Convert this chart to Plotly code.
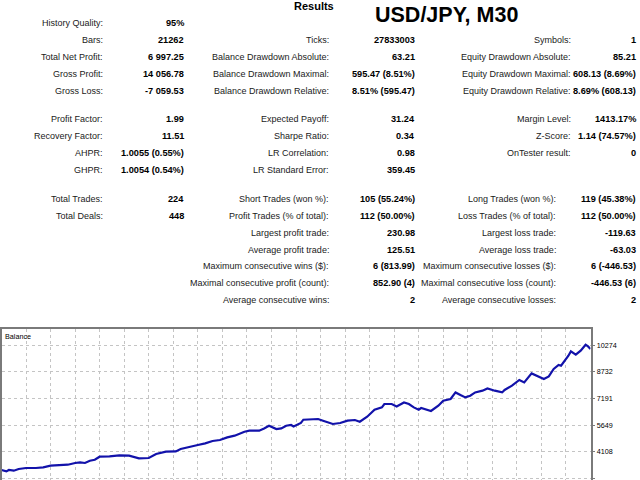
import plotly.graph_objects as go

# balance curve (x = trade position, y = balance)
trade = [0, 2, 3, 5, 7, 10, 14, 17, 20, 24,
         27, 30, 32, 34, 36, 38, 40, 44, 48, 52,
         54, 56, 60, 63, 67, 71, 73, 77, 80, 83,
         86, 89, 92, 95, 97, 99, 101, 105, 107, 109,
         112, 114, 116, 118, 119, 122, 123, 126, 129, 131,
         135, 138, 141, 144, 146, 149, 152, 155, 156, 159,
         161, 164, 166, 168, 170, 171, 173, 175, 178, 180,
         183, 185, 187, 189, 191, 193, 196, 198, 201, 204,
         205, 208, 211, 213, 216, 219, 221, 223, 225, 227,
         228, 231, 232, 234, 236, 238, 239, 240]
balance = [3049, 2968, 3049, 3009, 3107, 3165, 3165, 3199, 3298, 3338,
           3355, 3454, 3488, 3454, 3587, 3644, 3818, 3835, 3893, 3876,
           3818, 3719, 3743, 3974, 4107, 4124, 4263, 4413, 4494, 4586,
           4725, 4783, 4933, 5032, 5164, 5263, 5321, 5321, 5453, 5610,
           5419, 5453, 5610, 5650, 5569, 5766, 5956, 5956, 5997, 5899,
           5708, 5766, 5899, 5939, 5841, 6130, 6534, 6667, 6864, 6864,
           6725, 6956, 6864, 6667, 6534, 6633, 6534, 6459, 6766, 7055,
           7153, 7534, 7384, 7245, 7344, 7534, 7633, 7765, 7633, 7534,
           7673, 7922, 8251, 8112, 8632, 8459, 8309, 8459, 8887, 9118,
           9078, 9656, 9904, 9713, 9945, 10291, 10193, 10043]
y_ticks = [2566, 4108, 5649, 7191, 8732, 10274]

# report table, one list per column ("" = empty cell)
col1_labels = ["History Quality:", "Bars:", "Total Net Profit:", "Gross Profit:", "Gross Loss:", "",
               "Profit Factor:", "Recovery Factor:", "AHPR:", "GHPR:", "",
               "Total Trades:", "Total Deals:", "", "", "", "", ""]
col1_values = ["95%", "21262", "6 997.25", "14 056.78", "-7 059.53", "",
               "1.99", "11.51", "1.0055 (0.55%)", "1.0054 (0.54%)", "",
               "224", "448", "", "", "", "", ""]
col2_labels = ["", "Ticks:", "Balance Drawdown Absolute:", "Balance Drawdown Maximal:", "Balance Drawdown Relative:", "",
               "Expected Payoff:", "Sharpe Ratio:", "LR Correlation:", "LR Standard Error:", "",
               "Short Trades (won %):", "Profit Trades (% of total):", "Largest profit trade:", "Average profit trade:",
               "Maximum consecutive wins ($):", "Maximal consecutive profit (count):", "Average consecutive wins:"]
col2_values = ["", "27833003", "63.21", "595.47 (8.51%)", "8.51% (595.47)", "",
               "31.24", "0.34", "0.98", "359.45", "",
               "105 (55.24%)", "112 (50.00%)", "230.98", "125.51", "6 (813.99)", "852.90 (4)", "2"]
col3_labels = ["", "Symbols:", "Equity Drawdown Absolute:", "Equity Drawdown Maximal:", "Equity Drawdown Relative:", "",
               "Margin Level:", "Z-Score:", "OnTester result:", "", "",
               "Long Trades (won %):", "Loss Trades (% of total):", "Largest loss trade:", "Average loss trade:",
               "Maximum consecutive losses ($):", "Maximal consecutive loss (count):", "Average consecutive losses:"]
col3_values = ["", "1", "85.21", "608.13 (8.69%)", "8.69% (608.13)", "",
               "1413.17%", "1.14 (74.57%)", "0", "", "",
               "119 (45.38%)", "112 (50.00%)", "-119.63", "-63.03", "6 (-446.53)", "-446.53 (6)", "2"]

W, H = 640, 480
ROW_Y = [23, 40, 57, 74, 91, 105, 119, 136, 153, 170, 185, 199, 216, 233, 250, 266, 283, 300]
FONT = "Liberation Sans, Arial, sans-serif"

fig = go.Figure()
fig.add_trace(go.Scatter(x=trade, y=balance, mode="lines",
                         line=dict(color="#1212aa", width=2.2), hoverinfo="skip"))


def txt(s, xpx, ypx, anchor="right", size=9.0, bold=False, color="#1a1a1a"):
    if not s:
        return
    fig.add_annotation(text="<b>%s</b>" % s if bold else s,
                       x=xpx / W, y=1 - ypx / H, xref="paper", yref="paper",
                       xanchor=anchor, yanchor="middle", showarrow=False,
                       font=dict(family=FONT, size=size, color=color))


for i, yy in enumerate(ROW_Y):
    lower = i >= 11
    txt(col1_labels[i], 105, yy)
    txt(col1_values[i], 186, yy, size=9.2, bold=True, color="black")
    txt(col2_labels[i], 331, yy)
    txt(col2_values[i], 417, yy, size=9.2, bold=True, color="black")
    txt(col3_labels[i], 558 if lower else 573, yy)
    txt(col3_values[i], 638, yy, size=9.2, bold=True, color="black")

txt("Results", 314, 6, anchor="center", size=11, bold=True, color="black")
txt("USD/JPY, M30", 446, 15, anchor="center", size=21.5, bold=True, color="black")
txt("Balance", 3, 336, anchor="left", size=7.2, color="black")

fig.update_layout(
    width=W, height=H,
    margin=dict(l=0, r=0, t=0, b=0),
    paper_bgcolor="white", plot_bgcolor="white",
    showlegend=False,
    xaxis=dict(domain=[1.5 / W, 590.5 / W], range=[0, 240], dtick=10, tick0=0,
               showticklabels=False, ticks="", zeroline=False,
               showgrid=True, gridcolor="#c4c4c4", griddash="dot", gridwidth=1,
               showline=True, linecolor="#7a7a7a", linewidth=1.5, mirror=True),
    yaxis=dict(domain=[0, (H - 329) / H], range=[2471, 11199], side="right",
               tickvals=y_ticks, ticktext=[str(v) for v in y_ticks],
               ticks="outside", ticklen=3, tickcolor="#7a7a7a",
               tickfont=dict(family=FONT, size=7.2, color="black"),
               zeroline=False, showgrid=True, gridcolor="#c4c4c4", griddash="dot", gridwidth=1,
               showline=True, linecolor="#7a7a7a", linewidth=1.5, mirror=True),
)

# the page body has an 8px default margin, drop it so the figure fills the window
fig.write_html("out.html", config={"displayModeBar": False},
               post_script="document.body.style.margin='0';")
